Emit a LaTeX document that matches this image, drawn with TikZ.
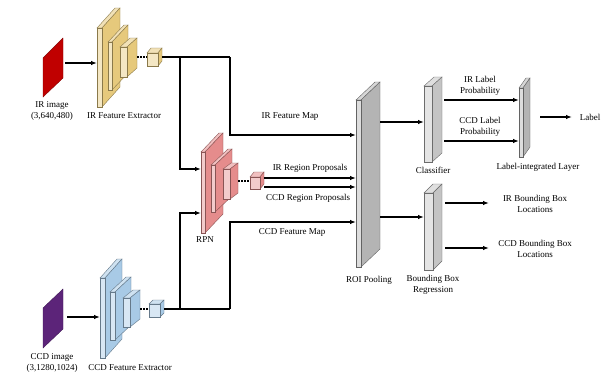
\documentclass[tikz,border=0pt]{standalone}
\usepackage{fontspec}
\setmainfont{Liberation Serif}
\usetikzlibrary{arrows.meta}
\definecolor{featyellow}{HTML}{E6C97C}
\definecolor{rpnpink}{HTML}{E58C8C}
\definecolor{featblue}{HTML}{A8CAE6}
\definecolor{roigray}{HTML}{B4B4B4}
\definecolor{headgray}{HTML}{C4C4C4}
\definecolor{irred}{HTML}{C00000}
\definecolor{ccdpurple}{HTML}{5C2479}
% x, y, width, height, depth x, depth y, side colour, edge colour
\newcommand{\drawslab}[8]{%
    \filldraw[draw=#8, line width=0.4pt, fill=#7!55!white] (#1,#2) -- ++(#5,-#6) -- ++(#3,0) -- ++(-#5,#6) -- cycle;
    \filldraw[draw=#8, line width=0.4pt, fill=#7] (#1+#3,#2) -- ++(#5,-#6) -- ++(0,#4) -- ++(-#5,#6) -- cycle;
    \filldraw[draw=#8, line width=0.4pt, fill=#7!45!white] (#1,#2) rectangle ++(#3,#4);
}
\begin{document}
\begin{tikzpicture}[x=1pt, y=-1pt,
        conn/.style={line width=1.2pt},
        arr/.style={conn, -{Latex[length=6pt, width=4.5pt]}},
        dots/.style={line width=1.1pt, dash pattern=on 1.5pt off 1.5pt},
        lbl/.style={font=\fontsize{9}{11.5}\selectfont, align=center, inner sep=0pt}]
    \useasboundingbox (0,0) rectangle (605,380);

    % input images
    \filldraw[fill=irred, draw=irred!70!black] (43,58) -- (63,38) -- (63,78) -- (43,97) -- cycle;
    \filldraw[fill=ccdpurple, draw=ccdpurple!70!black] (43,308) -- (63,289) -- (63,329) -- (43,348) -- cycle;
    \node[lbl] (irimg) at (52,111) {IR image\\(3,640,480)};
    \node[lbl] (ccdimg) at (52,363) {CCD image\\(3,1280,1024)};

    % IR feature extractor
    \drawslab{97}{28}{5}{79}{18}{20}{featyellow}{featyellow!60!black}
    \drawslab{108}{42}{4}{48}{16}{17}{featyellow}{featyellow!60!black}
    \drawslab{120}{47}{7}{30}{10}{9}{featyellow}{featyellow!60!black}
    \drawslab{147}{53}{11}{13}{4}{5}{featyellow}{featyellow!60!black}
    \node[lbl] (irfe) at (124,116) {IR Feature Extractor};

    % CCD feature extractor
    \drawslab{100}{278}{5}{80}{17}{19}{featblue}{featblue!60!black}
    \drawslab{110}{292}{5}{48}{16}{15}{featblue}{featblue!60!black}
    \drawslab{123}{298}{7}{29}{10}{8}{featblue}{featblue!60!black}
    \drawslab{149}{304}{11}{13}{4}{4}{featblue}{featblue!60!black}
    \node[lbl] (ccdfe) at (130,368) {CCD Feature Extractor};

    % RPN
    \drawslab{201}{152}{4}{81}{18}{19}{rpnpink}{rpnpink!60!black}
    \drawslab{211}{165}{4}{47}{17}{16}{rpnpink}{rpnpink!60!black}
    \drawslab{223}{169}{7}{30}{8}{6}{rpnpink}{rpnpink!60!black}
    \drawslab{250}{177}{10}{12}{4}{5}{rpnpink}{rpnpink!60!black}
    \node[lbl] (rpn) at (205,240) {RPN};

    % ROI pooling and heads
    \drawslab{356}{100}{5}{167}{19}{18}{roigray}{roigray!55!black}
    \node[lbl] (roi) at (369,280) {ROI Pooling};
    \drawslab{424}{86}{8}{76}{10}{9}{headgray}{headgray!55!black}
    \node[lbl] (cls) at (433,170) {Classifier};
    \drawslab{424}{193}{9}{77}{9}{9}{headgray}{headgray!55!black}
    \node[lbl] (bbr) at (433,285) {Bounding Box\\Regression};
    \drawslab{519}{88}{4}{69}{7}{10}{roigray}{roigray!55!black}
    \node[lbl] (lil) at (538,167) {Label-integrated Layer};

    % ports
    \coordinate (irimgout) at (65,63);
    \coordinate (irfein) at (97,63);
    \coordinate (ccdimgout) at (67,317);
    \coordinate (ccdfein) at (100,317);
    \coordinate (ircube) at (162,57);
    \coordinate (irsplit) at (180,57);
    \coordinate (irturn) at (230,57);
    \coordinate (ccdcube) at (164,309);
    \coordinate (ccdsplit) at (180,309);
    \coordinate (ccdturn) at (230,309);
    \coordinate (rpnina) at (201,169);
    \coordinate (rpninb) at (201,213);
    \coordinate (roiina) at (356,135);
    \coordinate (roiinb) at (356,178);
    \coordinate (roiinc) at (356,187);
    \coordinate (roiind) at (356,222);
    \coordinate (rpncubea) at (264,178);
    \coordinate (rpncubeb) at (264,187);
    \coordinate (roiouta) at (380,122);
    \coordinate (roioutb) at (380,217);
    \coordinate (clsin) at (424,122);
    \coordinate (bbrin) at (424,217);
    \coordinate (clsouta) at (444,100);
    \coordinate (clsoutb) at (444,141);
    \coordinate (lilina) at (519,100);
    \coordinate (lilinb) at (519,141);
    \coordinate (lilout) at (540,117);
    \coordinate (labelin) at (572,117);
    \coordinate (bbrouta) at (445,203);
    \coordinate (bbroutb) at (445,248);
    \coordinate (irlocin) at (489,203);
    \coordinate (ccdlocin) at (489,248);

    % dotted links to the last blocks
    \draw[dots] (137,57) -- (147,57);
    \draw[dots] (140,309) -- (149,309);
    \draw[dots] (238,181) -- (250,181);

    % connectors
    \draw[arr] (irimgout) -- (irfein);
    \draw[arr] (ccdimgout) -- (ccdfein);
    \draw[conn] (ircube) -- (irturn);
    \draw[arr] (irturn) |- (roiina);
    \draw[arr] (irsplit) |- (rpnina);
    \draw[conn] (ccdcube) -- (ccdturn);
    \draw[arr] (ccdturn) |- (roiind);
    \draw[arr] (ccdsplit) |- (rpninb);
    \draw[arr] (rpncubea) -- (roiinb);
    \draw[arr] (rpncubeb) -- (roiinc);
    \draw[arr] (roiouta) -- (clsin);
    \draw[arr] (roioutb) -- (bbrin);
    \draw[arr] (clsouta) -- (lilina);
    \draw[arr] (clsoutb) -- (lilinb);
    \draw[arr] (lilout) -- (labelin);
    \draw[arr] (bbrouta) -- (irlocin);
    \draw[arr] (bbroutb) -- (ccdlocin);

    % connector labels
    \node[lbl] (irmap) at (290,117) {IR Feature Map};
    \node[lbl] (irprop) at (310,168) {IR Region Proposals};
    \node[lbl] (ccdprop) at (308,198) {CCD Region Proposals};
    \node[lbl] (ccdmap) at (292,232) {CCD Feature Map};
    \node[lbl] (irprob) at (480,86) {IR Label\\Probability};
    \node[lbl] (ccdprob) at (480,127) {CCD Label\\Probability};
    \node[lbl] (label) at (590,117) {Label};
    \node[lbl] (irloc) at (535,204) {IR Bounding Box\\Locations};
    \node[lbl] (ccdloc) at (535,249) {CCD Bounding Box\\Locations};
\end{tikzpicture}
\end{document}
